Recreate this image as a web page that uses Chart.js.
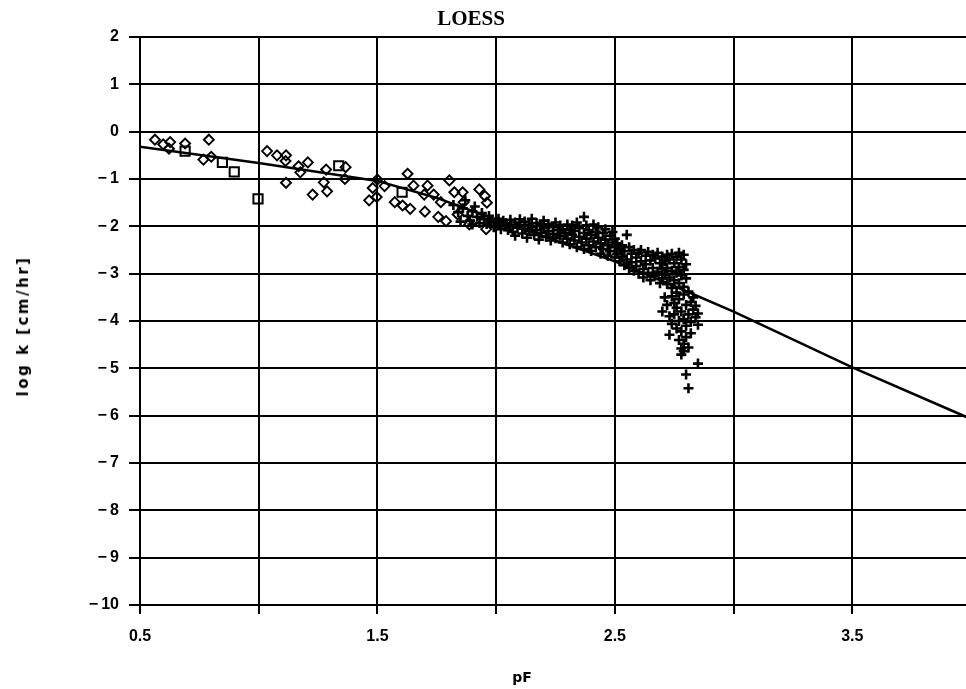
<!DOCTYPE html>
<html>
<head>
<meta charset="utf-8">
<script src="https://cdn.jsdelivr.net/npm/chart.js@4"></script>
<style>
  html, body { margin: 0; padding: 0; background: #fff; overflow: hidden; }
  #wrap { position: absolute; left: 0; top: 0; width: 984px; height: 689px; }
  .lbl { position: absolute; color: #000; white-space: nowrap; transform: translate(-50%, -50%); }
  #title { left: 471px; top: 18px; font: bold 21px "Liberation Serif", serif; }
  #ytitle { left: 23px; top: 326px; font: bold 15px "DejaVu Sans", sans-serif; letter-spacing: 2.5px; transform: translate(-50%, -50%) rotate(-90deg); }
  #xtitle { left: 522px; top: 677px; font: bold 14px "DejaVu Sans", sans-serif; }
</style>
</head>
<body>
<div id="wrap"><canvas id="c"></canvas></div>
<div class="lbl" id="title">LOESS</div>
<div class="lbl" id="ytitle">log k [cm/hr]</div>
<div class="lbl" id="xtitle">pF</div>
<script>
// ---- data ----
const xTickLabels = ['0.5', '1.5', '2.5', '3.5'];

const diamonds = [
  [0.563,-0.17],[0.598,-0.27],[0.627,-0.22],[0.622,-0.36],[0.69,-0.25],[0.79,-0.17],[0.767,-0.59],[0.80,-0.53],
  [1.035,-0.41],[1.077,-0.50],[1.115,-0.50],[1.113,-0.62],[1.115,-1.08],[1.168,-0.73],[1.175,-0.86],[1.207,-0.65],
  [1.227,-1.33],[1.274,-1.07],[1.284,-0.80],[1.288,-1.26],[1.366,-0.75],[1.363,-1.0],
  [1.465,-1.45],[1.48,-1.19],[1.50,-1.01],[1.53,-1.15],[1.497,-1.38],
  [1.627,-0.89],[1.652,-1.14],[1.573,-1.49],[1.606,-1.56],[1.638,-1.63],[1.70,-1.69],[1.711,-1.14],[1.697,-1.33],
  [1.737,-1.33],[1.767,-1.49],[1.803,-1.03],[1.756,-1.80],[1.789,-1.89],[1.824,-1.28],[1.859,-1.28],[1.838,-1.75],
  [1.863,-1.49],[1.887,-1.96],[1.929,-1.22],[1.953,-1.36],[1.961,-1.50],[1.958,-2.06]
];

const squares = [
  [0.69,-0.41],[0.847,-0.65],[0.897,-0.85],[0.997,-1.42],[1.337,-0.72],[1.604,-1.28]
];

const pluses = [
  [1.82,-1.55],[1.84,-1.70],[1.86,-1.62],[1.87,-1.45],[1.88,-1.78],[1.89,-1.88],[1.90,-1.68],[1.91,-1.58],
  [1.92,-1.80],[1.93,-1.93],[1.94,-1.72],[1.95,-1.85],[1.96,-1.95],[1.97,-1.78],[1.98,-1.90],[1.99,-2.02],
  [1.90,-1.96],[1.85,-1.90],
  [2.00,-1.90],[2.00,-2.00],[2.01,-1.84],[2.02,-1.95],[2.02,-2.06],[2.03,-1.88],[2.04,-2.00],[2.04,-1.93],
  [2.05,-2.08],[2.06,-1.86],[2.06,-1.98],[2.07,-2.12],[2.08,-1.92],[2.08,-2.20],[2.09,-2.03],[2.10,-1.85],
  [2.10,-1.97],[2.11,-2.15],[2.12,-1.90],[2.12,-2.05],[2.13,-2.24],[2.14,-1.96],[2.14,-2.10],[2.15,-1.84],
  [2.15,-2.02],[2.16,-2.18],[2.17,-1.93],[2.17,-2.08],[2.18,-2.28],[2.19,-1.98],[2.19,-2.14],[2.20,-1.88],
  [2.20,-2.04],[2.21,-2.22],[2.22,-1.95],[2.22,-2.10],[2.23,-2.30],[2.24,-2.02],[2.24,-2.16],[2.25,-1.92],
  [2.25,-2.25],[2.26,-2.08],[2.27,-1.98],[2.27,-2.20],[2.28,-2.34],[2.28,-2.06],[2.29,-2.14],[2.30,-1.96],
  [2.30,-2.26],
  [2.31,-2.08],[2.31,-2.38],[2.32,-2.18],[2.32,-1.98],[2.33,-2.30],[2.33,-2.10],[2.34,-1.92],[2.34,-2.44],
  [2.35,-2.22],[2.35,-2.04],[2.36,-2.34],[2.37,-1.80],[2.37,-2.14],[2.37,-2.48],[2.38,-1.98],[2.38,-2.26],
  [2.39,-2.40],[2.39,-2.08],[2.40,-2.18],[2.40,-2.52],[2.41,-1.96],[2.41,-2.32],[2.42,-2.12],[2.42,-2.44],
  [2.43,-2.24],[2.43,-2.02],[2.44,-2.58],[2.44,-2.36],[2.45,-2.14],[2.45,-2.48],[2.46,-2.28],[2.46,-2.06],
  [2.47,-2.40],[2.47,-2.62],[2.48,-2.20],[2.48,-2.52],[2.49,-2.34],[2.49,-2.12],[2.50,-2.44],[2.50,-2.66],
  [2.50,-2.26],
  [2.51,-2.36],[2.51,-2.58],[2.52,-2.74],[2.52,-2.48],[2.53,-2.40],[2.53,-2.64],[2.54,-2.82],[2.54,-2.52],
  [2.55,-2.18],[2.55,-2.70],[2.56,-2.44],[2.56,-2.88],[2.57,-2.58],[2.57,-2.76],[2.58,-2.50],[2.58,-2.94],
  [2.59,-2.66],[2.59,-2.84],[2.60,-2.56],[2.60,-3.00],[2.61,-2.74],[2.61,-2.50],[2.62,-2.90],[2.62,-3.08],
  [2.63,-2.62],[2.63,-2.80],[2.64,-2.54],[2.64,-2.98],[2.65,-2.72],[2.65,-3.14],[2.66,-2.60],[2.66,-2.88],
  [2.67,-3.04],[2.67,-2.68],[2.68,-2.56],[2.68,-2.96],[2.69,-2.78],[2.69,-3.20],[2.70,-2.64],[2.70,-2.90],
  [2.70,-3.10],
  [2.71,-2.74],[2.71,-3.02],[2.72,-2.60],[2.72,-2.88],[2.72,-3.22],[2.73,-2.70],[2.73,-3.08],[2.74,-2.58],
  [2.74,-2.94],[2.74,-3.30],[2.75,-2.78],[2.75,-3.14],[2.76,-2.64],[2.76,-2.98],[2.76,-3.40],[2.77,-2.56],
  [2.77,-2.86],[2.77,-3.20],[2.78,-2.70],[2.78,-3.04],[2.79,-2.60],[2.79,-2.92],[2.79,-3.28],[2.80,-3.10],
  [2.80,-2.80],
  [2.70,-3.80],[2.71,-3.50],[2.72,-3.66],[2.73,-3.90],[2.73,-4.29],[2.74,-3.48],[2.74,-4.06],[2.75,-3.62],
  [2.75,-3.86],[2.76,-4.16],[2.76,-3.72],[2.77,-3.54],[2.77,-4.00],[2.77,-4.40],[2.78,-3.80],[2.78,-4.22],
  [2.78,-4.58],[2.78,-4.71],[2.79,-3.44],[2.79,-3.96],[2.79,-4.48],[2.80,-3.66],[2.80,-4.10],[2.80,-4.34],
  [2.81,-3.38],[2.81,-3.86],[2.81,-4.56],[2.82,-3.60],[2.82,-4.02],[2.82,-4.26],[2.83,-3.76],[2.83,-3.50],
  [2.84,-3.92],[2.84,-3.68],[2.85,-3.84],[2.85,-4.08],[2.79,-4.64],
  [2.85,-4.90],[2.80,-5.13],[2.81,-5.42]
];

const fitLine = [
  [0.5,-0.32],[1.0,-0.66],[1.5,-1.04],[1.75,-1.40],[2.0,-1.86],[2.25,-2.30],
  [2.5,-2.74],[2.75,-3.26],[3.0,-3.80],[3.5,-4.98],[4.0,-6.07]
];

const toXY = arr => arr.map(p => ({ x: p[0], y: p[1] }));
const tickFont = { family: '"Liberation Sans", Arial, sans-serif', size: 16, weight: 'bold' };

new Chart(document.getElementById('c'), {
  type: 'scatter',
  data: {
    datasets: [
      {
        label: 'plus', data: toXY(pluses), pointStyle: 'cross', pointRadius: 5,
        borderColor: '#000', borderWidth: 2.6, backgroundColor: '#000'
      },
      {
        label: 'diamond', data: toXY(diamonds), pointStyle: 'rectRot', pointRadius: 5,
        borderColor: '#000', borderWidth: 1.9, backgroundColor: 'rgba(255,255,255,0)'
      },
      {
        label: 'square', data: toXY(squares), pointStyle: 'rect', pointRadius: 6.5,
        borderColor: '#000', borderWidth: 2, backgroundColor: 'rgba(255,255,255,0)'
      },
      {
        type: 'line', label: 'fit', data: toXY(fitLine), showLine: true, pointRadius: 0,
        borderColor: '#000', borderWidth: 2.5, tension: 0, fill: false
      }
    ]
  },
  options: {
    responsive: true,
    maintainAspectRatio: false,
    animation: false,
    events: [],
    layout: { padding: { left: 0, top: 37, right: 6, bottom: 0 } },
    plugins: { legend: { display: false }, tooltip: { enabled: false }, title: { display: false } },
    scales: {
      x: {
        type: 'linear', min: 0.5, max: 4.0,
        afterFit: s => { s.height = 84; },
        ticks: {
          stepSize: 0.5, color: '#000', font: tickFont, padding: 13, maxRotation: 0, autoSkip: false,
          callback: v => { const t = Number(v).toFixed(1); return xTickLabels.includes(t) ? t : ''; }
        },
        grid: { color: '#000', lineWidth: 2, tickLength: 9, tickColor: '#000', drawTicks: true },
        border: { display: true, color: '#000', width: 2 }
      },
      y: {
        type: 'linear', min: -10, max: 2,
        afterFit: s => { s.width = 140; },
        ticks: {
          stepSize: 1, color: '#000', font: tickFont, padding: 10,
          callback: v => v < 0 ? '\u2212\u2009' + Math.abs(v) : String(v)
        },
        grid: { color: '#000', lineWidth: 2, tickLength: 11, tickColor: '#000', drawTicks: true },
        border: { display: true, color: '#000', width: 2 }
      }
    }
  }
});
</script>
</body>
</html>
